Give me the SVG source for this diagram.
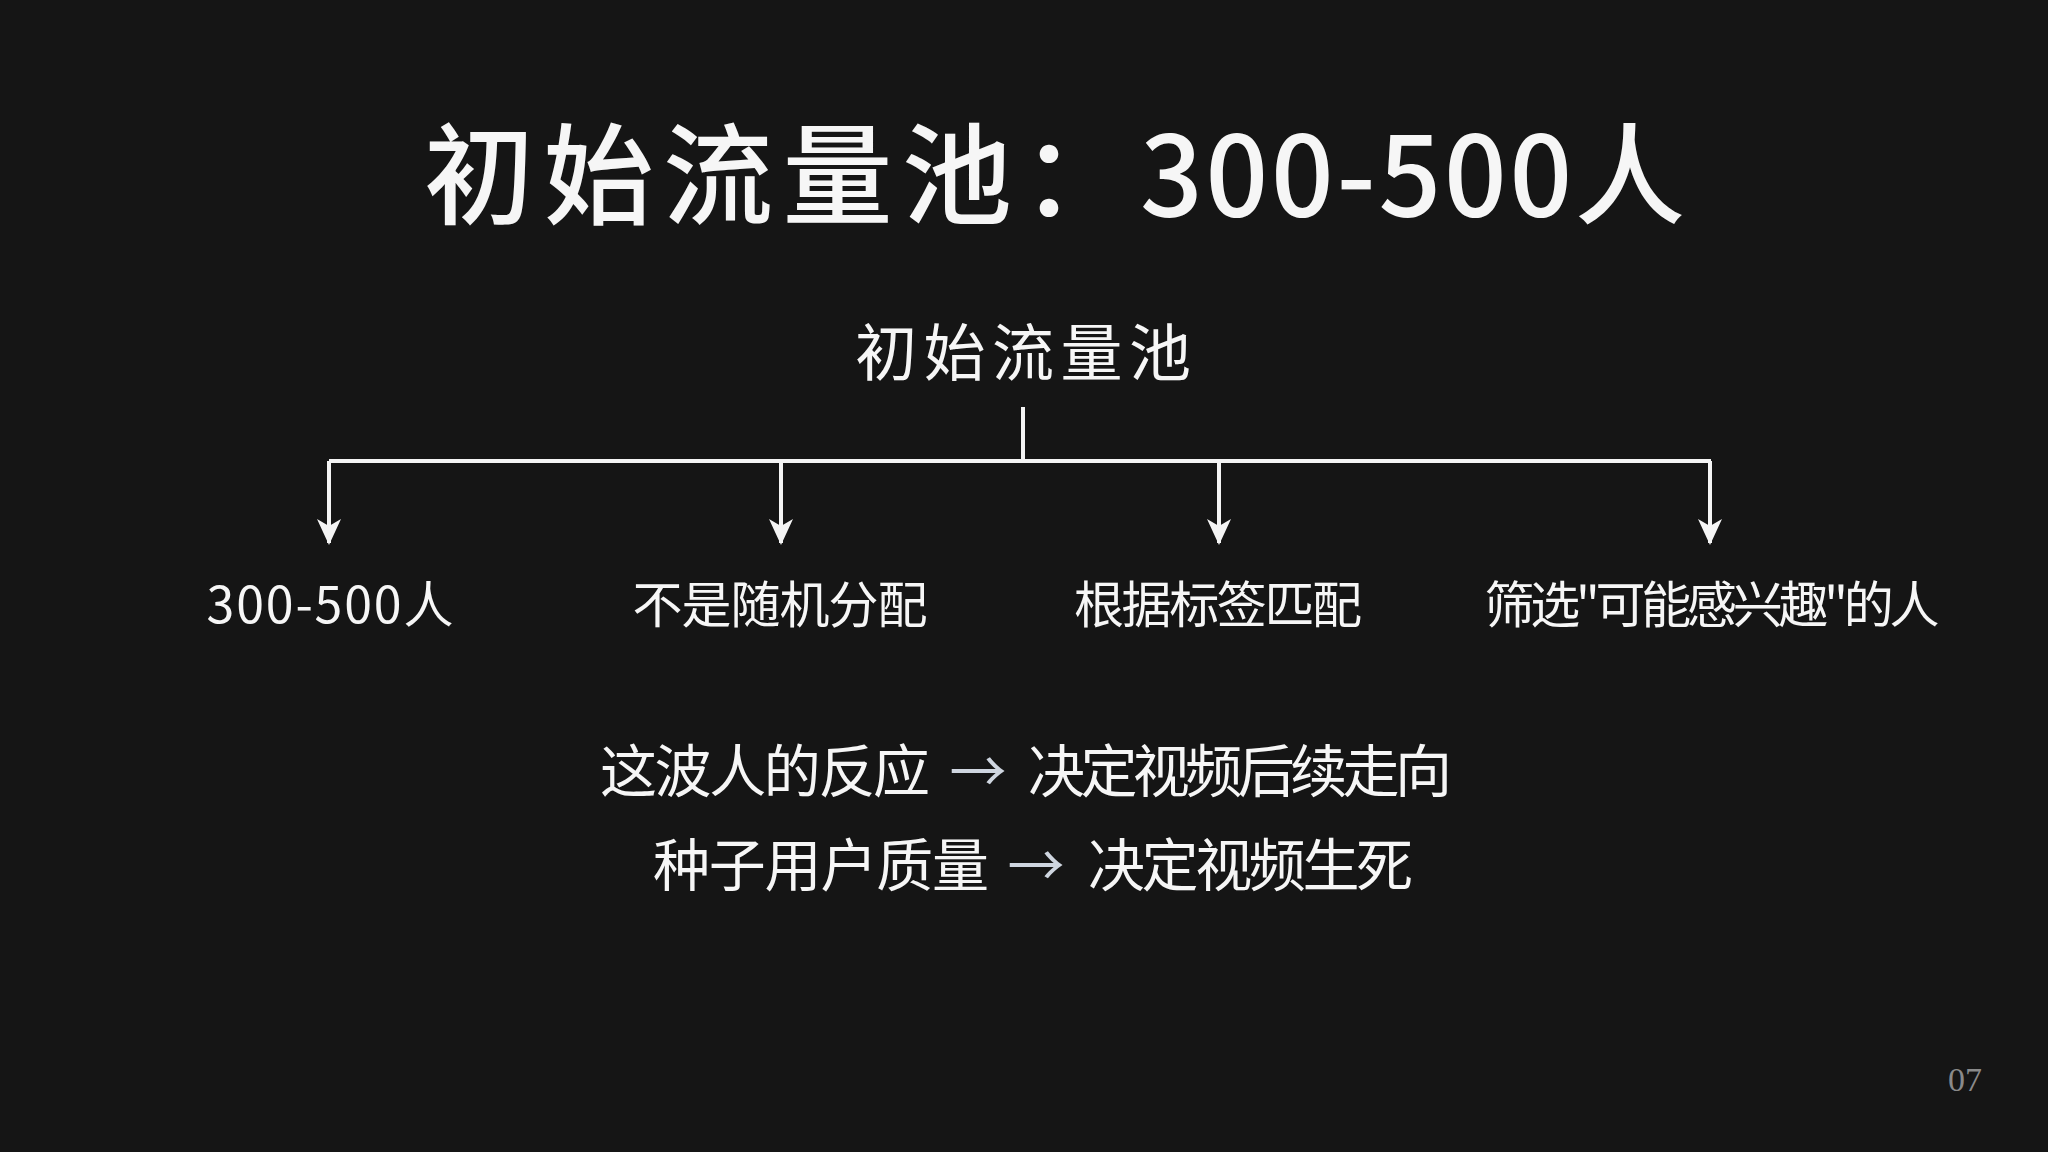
<svg xmlns="http://www.w3.org/2000/svg" width="2048" height="1152" viewBox="0 0 2048 1152">
  <style>
    .cjk { font-family: "Noto Sans CJK SC", "Noto Sans", sans-serif; fill: #f6f6f6; }
    .title { font-size: 110px; font-weight: 500; }
    .sub { font-size: 62px; }
    .label { font-size: 50px; }
    .line { font-size: 57px; }
    .arr { fill: #cfd6e0; }
    .conn { stroke: #f4f4f4; stroke-width: 4; fill: none; }
    .page { font-family: "Liberation Serif", serif; font-size: 34px; fill: #8a8a8a; }
  </style>
  <defs>
    <marker id="ah" markerUnits="userSpaceOnUse" markerWidth="26" markerHeight="26" viewBox="0 -13 26 26" refX="24" refY="0" orient="auto">
      <path d="M0,-12 L26,0 L0,12 L7,0 Z" fill="#f4f4f4"/>
    </marker>
  </defs>
  <rect width="2048" height="1152" fill="#151515"/>

  <g id="title">
    <text class="cjk title" x="424" y="216" letter-spacing="9.5">初始流量池：</text>
    <text class="cjk title" x="1140" y="216" textLength="545" lengthAdjust="spacing">300-500人</text>
  </g>

  <g id="root">
    <text class="cjk sub" x="1023" y="376" text-anchor="middle" textLength="336" lengthAdjust="spacing">初始流量池</text>
  </g>

  <g id="connectors">
    <path class="conn" d="M1023,407 V461"/>
    <path class="conn" d="M329,461 H1711"/>
    <path class="conn" d="M329,461 V543" marker-end="url(#ah)"/>
    <path class="conn" d="M781,461 V543" marker-end="url(#ah)"/>
    <path class="conn" d="M1219,461 V543" marker-end="url(#ah)"/>
    <path class="conn" d="M1710,461 V543" marker-end="url(#ah)"/>
  </g>

  <g id="node1">
    <text class="cjk label" x="330" y="623" text-anchor="middle" textLength="247" lengthAdjust="spacing">300-500人</text>
  </g>
  <g id="node2">
    <text class="cjk label" x="780" y="623" text-anchor="middle" textLength="295" lengthAdjust="spacing">不是随机分配</text>
  </g>
  <g id="node3">
    <text class="cjk label" x="1218" y="623" text-anchor="middle" textLength="288" lengthAdjust="spacing">根据标签匹配</text>
  </g>
  <g id="node4">
    <text class="cjk label" x="1712" y="623" text-anchor="middle" textLength="455" lengthAdjust="spacing">筛选"可能感兴趣"的人</text>
  </g>

  <g id="summary">
    <text class="cjk line" x="600" y="792" textLength="330" lengthAdjust="spacing">这波人的反应</text>
    <text class="cjk line arr" x="978" y="792" text-anchor="middle">→</text>
    <text class="cjk line" x="1028" y="792" textLength="424" lengthAdjust="spacing">决定视频后续走向</text>
    <text class="cjk line" x="653" y="886" textLength="336" lengthAdjust="spacing">种子用户质量</text>
    <text class="cjk line arr" x="1036" y="886" text-anchor="middle">→</text>
    <text class="cjk line" x="1088" y="886" textLength="325" lengthAdjust="spacing">决定视频生死</text>
  </g>

  <g id="page">
    <text class="page" x="1965" y="1091" text-anchor="middle">07</text>
  </g>
</svg>
